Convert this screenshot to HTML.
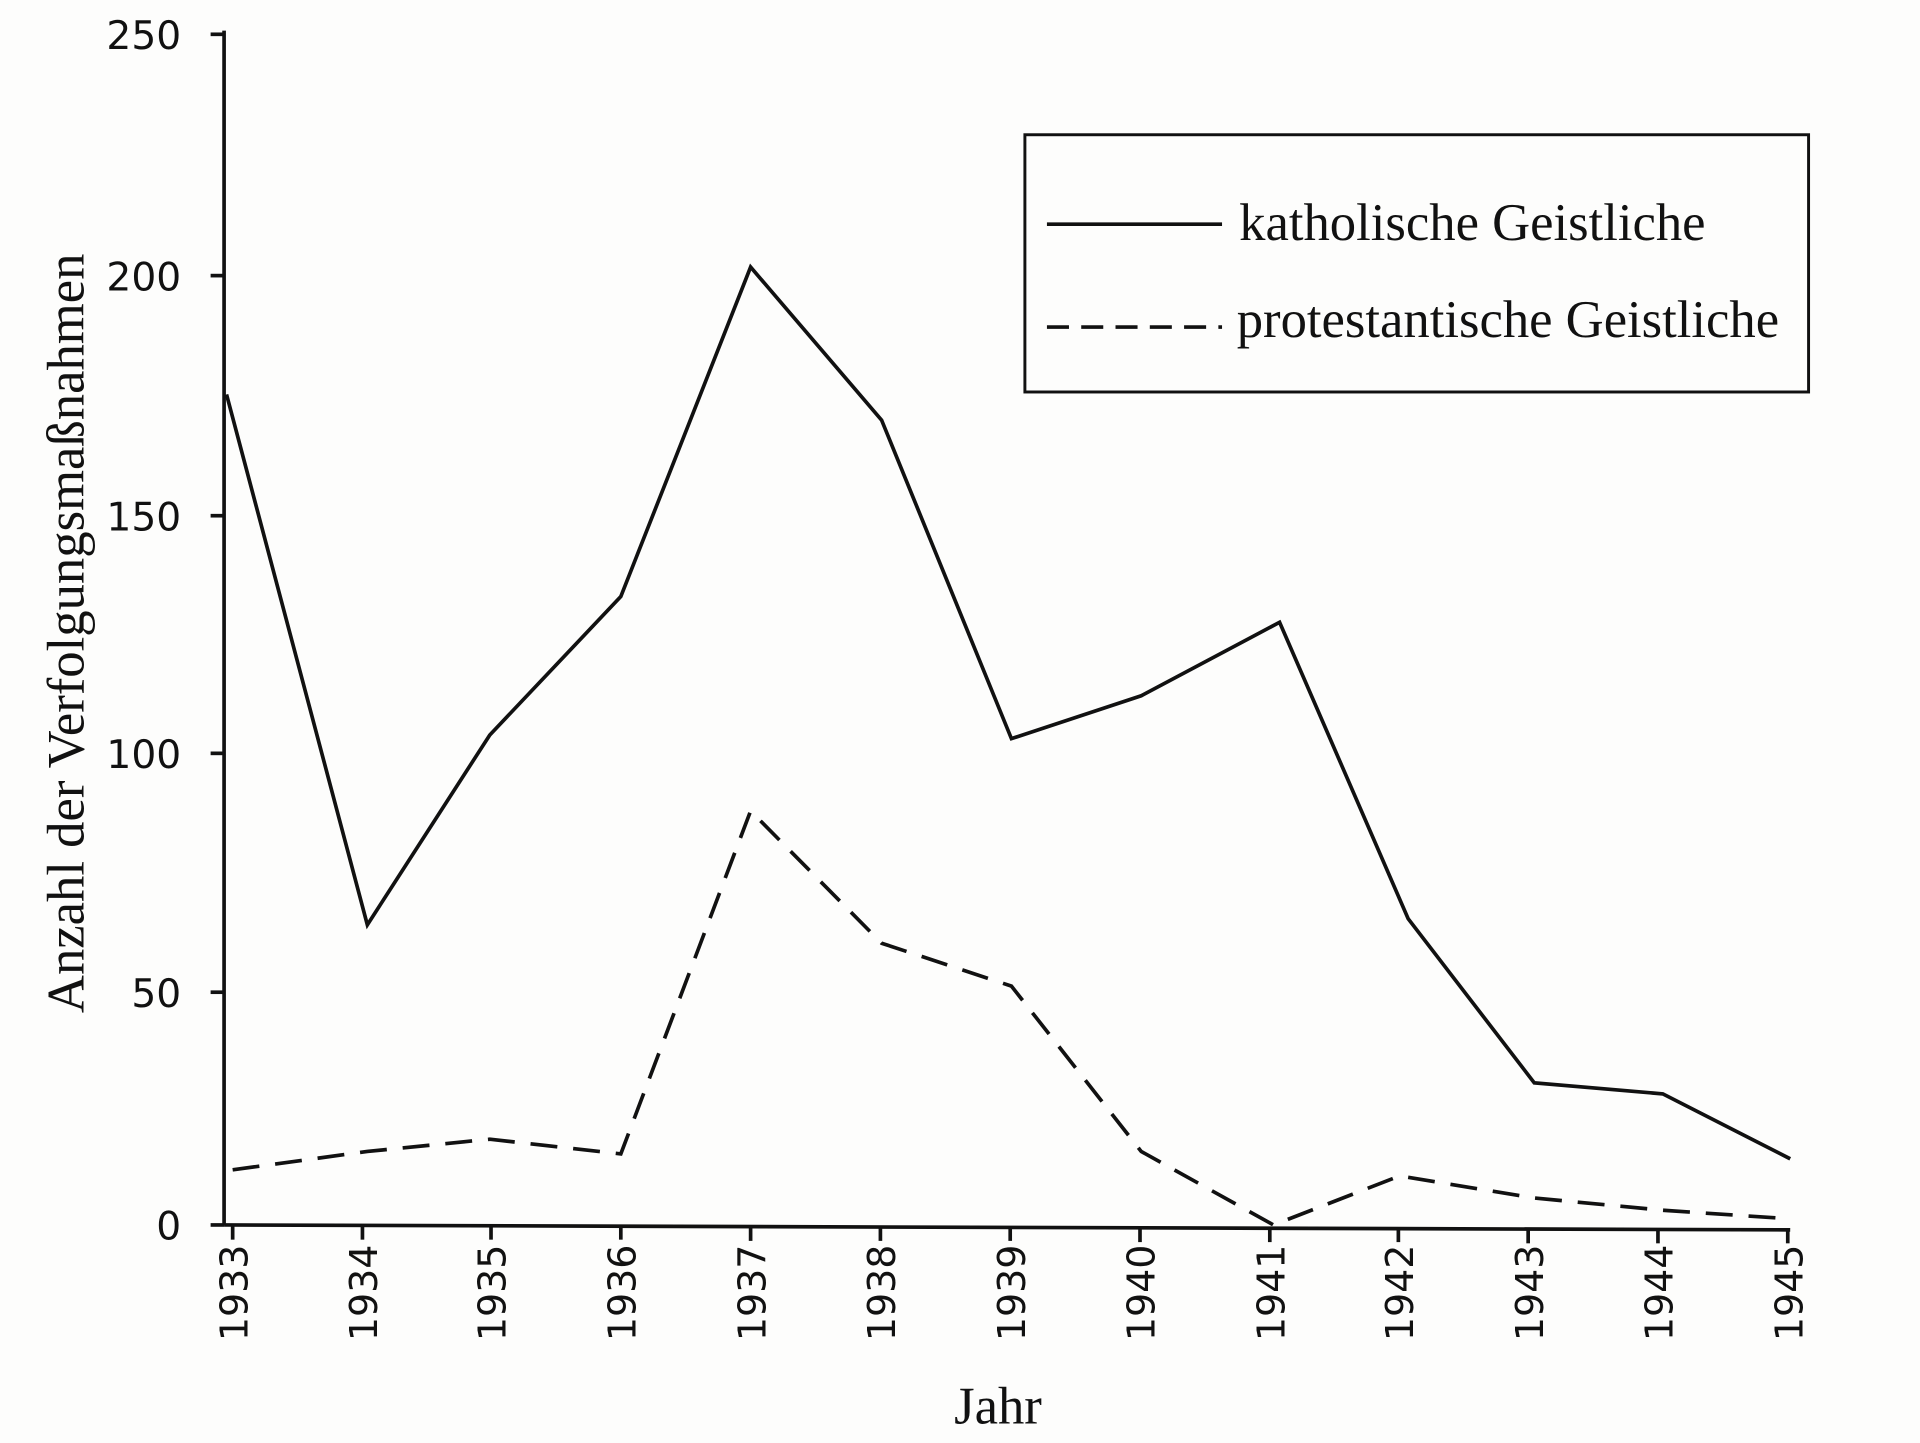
<!DOCTYPE html>
<html><head><meta charset="utf-8"><style>
html,body{margin:0;padding:0;background:#fff;}
svg{display:block;}
</style></head><body>
<svg width="1920" height="1443" viewBox="0 0 1568 1178" preserveAspectRatio="none" xmlns="http://www.w3.org/2000/svg">
<rect width="1568" height="1178" fill="#fdfdfc"/>
<g stroke="#111" stroke-width="3" fill="none">
<line x1="183" y1="25" x2="183" y2="1000"/>
<line x1="183" y1="1000" x2="1462" y2="1004"/>
<line x1="172" y1="28" x2="183" y2="28"/>
<line x1="172" y1="225" x2="183" y2="225"/>
<line x1="172" y1="421" x2="183" y2="421"/>
<line x1="172" y1="615" x2="183" y2="615"/>
<line x1="172" y1="810" x2="183" y2="810"/>
<line x1="172" y1="1000" x2="183" y2="1000"/>
<g>
<line x1="190" y1="1000" x2="190" y2="1012"/>
<line x1="296" y1="1000" x2="296" y2="1012"/>
<line x1="401" y1="1001" x2="401" y2="1012"/>
<line x1="507" y1="1001" x2="507" y2="1012"/>
<line x1="613" y1="1002" x2="613" y2="1013"/>
<line x1="719" y1="1002" x2="719" y2="1013"/>
<line x1="825" y1="1002" x2="825" y2="1013"/>
<line x1="931" y1="1003" x2="931" y2="1014"/>
<line x1="1037" y1="1003" x2="1037" y2="1014"/>
<line x1="1142" y1="1003" x2="1142" y2="1014"/>
<line x1="1248" y1="1004" x2="1248" y2="1015"/>
<line x1="1354" y1="1004" x2="1354" y2="1015"/>
<line x1="1460" y1="1004" x2="1460" y2="1015"/>
</g>
<polyline points="185,322 300,755 400,600 507,487 613,218 720,343 826,603 932,568 1045,508 1150,750 1253,884 1358,893 1462,946"/>
<polyline stroke-dasharray="22,13" points="190,955 300,940 400,930 507,942 613,662 720,770 826,805 932,940 1040,1000 1143,960 1253,978 1358,988 1462,995"/>
<rect x="837" y="110" width="640" height="210" stroke-width="2.4"/>
<line x1="855" y1="183" x2="998" y2="183"/>
<line x1="855" y1="267" x2="998" y2="267" stroke-dasharray="18,10"/>
</g>
<g font-family="'DejaVu Sans','Liberation Sans',sans-serif" font-size="32" fill="#111" text-anchor="end">
<text x="148" y="40">250</text>
<text x="148" y="237">200</text>
<text x="148" y="433">150</text>
<text x="148" y="627">100</text>
<text x="148" y="822">50</text>
<text x="148" y="1012">0</text>
</g>
<g font-family="'DejaVu Sans','Liberation Sans',sans-serif" font-size="31" fill="#111" text-anchor="end">
<text transform="translate(202,1016) rotate(-90)">1933</text>
<text transform="translate(308,1016) rotate(-90)">1934</text>
<text transform="translate(413,1016) rotate(-90)">1935</text>
<text transform="translate(519,1016) rotate(-90)">1936</text>
<text transform="translate(625,1016) rotate(-90)">1937</text>
<text transform="translate(731,1016) rotate(-90)">1938</text>
<text transform="translate(837,1016) rotate(-90)">1939</text>
<text transform="translate(943,1016) rotate(-90)">1940</text>
<text transform="translate(1049,1016) rotate(-90)">1941</text>
<text transform="translate(1154,1016) rotate(-90)">1942</text>
<text transform="translate(1260,1016) rotate(-90)">1943</text>
<text transform="translate(1366,1016) rotate(-90)">1944</text>
<text transform="translate(1472,1016) rotate(-90)">1945</text>
</g>
<g font-family="'Liberation Serif',serif" font-size="43" fill="#111">
<text x="815" y="1162" text-anchor="middle">Jahr</text>
<text transform="translate(68,517) rotate(-90)" text-anchor="middle">Anzahl der Verfolgungsmaßnahmen</text>
<text x="1012" y="196">katholische Geistliche</text>
<text x="1010" y="275">protestantische Geistliche</text>
</g>
</svg>
</body></html>
